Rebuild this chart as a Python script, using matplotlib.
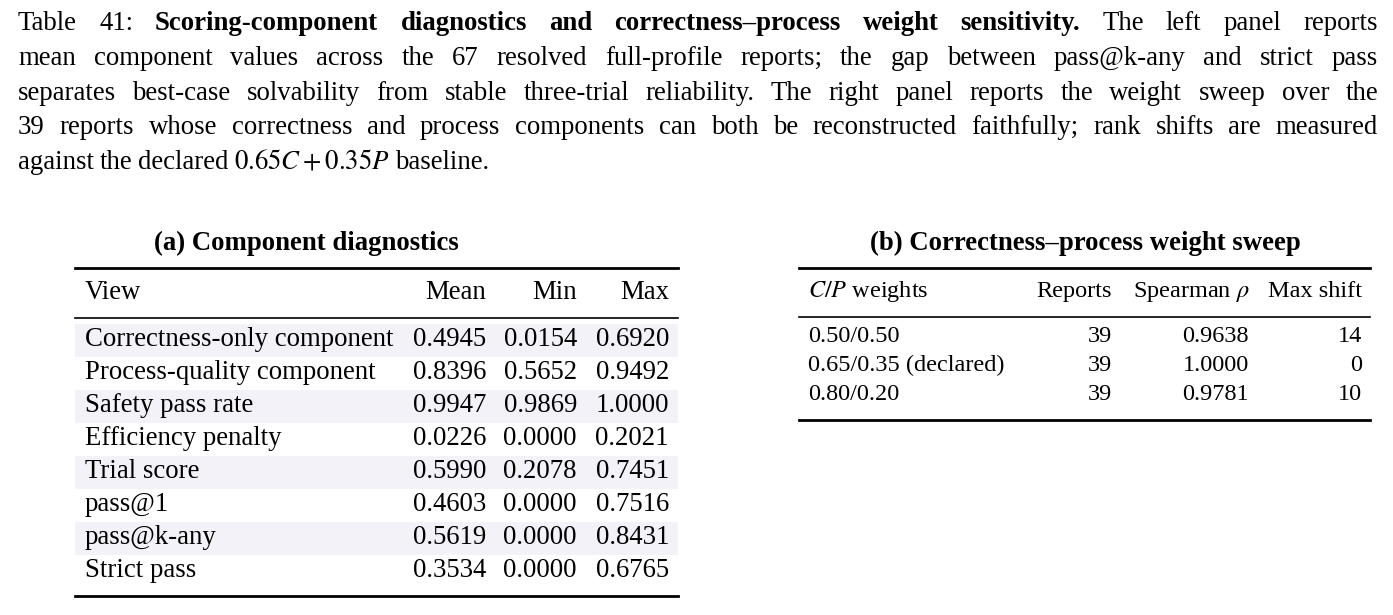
import matplotlib
matplotlib.use("Agg")
import matplotlib.pyplot as plt
from matplotlib.patches import Rectangle

plt.rcParams['font.family'] = ['Liberation Serif', 'DejaVu Serif']
plt.rcParams['mathtext.fontset'] = 'stix'

caption_lines = [
    [("Table 41:", "normal"), ("Scoring-component diagnostics and correctness–process weight sensitivity.", "bold"),
     ("The left panel reports", "normal")],
    [("mean component values across the 67 resolved full-profile reports; the gap between pass@k-any and strict pass", "normal")],
    [("separates best-case solvability from stable three-trial reliability. The right panel reports the weight sweep over the", "normal")],
    [("39 reports whose correctness and process components can both be reconstructed faithfully; rank shifts are measured", "normal")],
    [("against the declared $0.65C + 0.35P$ baseline.", "normal")],
]

left_header = ["View", "Mean", "Min", "Max"]
left_views = ["Correctness-only component", "Process-quality component", "Safety pass rate",
              "Efficiency penalty", "Trial score", "pass@1", "pass@k-any", "Strict pass"]
left_mean = ["0.4945", "0.8396", "0.9947", "0.0226", "0.5990", "0.4603", "0.5619", "0.3534"]
left_min = ["0.0154", "0.5652", "0.9869", "0.0000", "0.2078", "0.0000", "0.0000", "0.0000"]
left_max = ["0.6920", "0.9492", "1.0000", "0.2021", "0.7451", "0.7516", "0.8431", "0.6765"]

right_header = ["$C/P$ weights", "Reports", r"Spearman $\rho$", "Max shift"]
right_weights = ["0.50/0.50", "0.65/0.35 (declared)", "0.80/0.20"]
right_reports = ["39", "39", "39"]
right_spearman = ["0.9638", "1.0000", "0.9781"]
right_shift = ["14", "0", "10"]

W, H = 1393, 615
fig = plt.figure(figsize=(W / 100, H / 100), dpi=100)
ax = fig.add_axes([0, 0, 1, 1])
ax.set_xlim(0, W)
ax.set_ylim(H, 0)
ax.axis('off')
fig.canvas.draw()
r = fig.canvas.get_renderer()

FS = 19.3
def width(s, weight):
    t = ax.text(0, 0, s, fontsize=FS, fontweight=weight)
    bb = t.get_window_extent(r)
    t.remove()
    return bb.width

BL = 6  # baseline offset from visual centre
x0, x1 = 18, 1378
ys = [24, 59, 94, 128, 163]
for li, (segs, y) in enumerate(zip(caption_lines, ys)):
    words = []
    for s, wgt in segs:
        parts = s.split(" ") if "$" not in s else ["against", "the", "declared", "$0.65C+0.35P$", "baseline."]
        words += [(p, wgt) for p in parts]
    ws = [width(p, wgt) for p, wgt in words]
    last = li == len(caption_lines) - 1
    if last:
        gap = 5.5
    else:
        gap = (x1 - x0 - sum(ws)) / (len(words) - 1)
    x = x0
    for (p, wgt), w in zip(words, ws):
        ax.text(x, y + BL, p, fontsize=FS, fontweight=wgt, va='baseline', ha='left')
        x += w + gap

TF = 19.3
def txt(x, y, s, ha='left', weight='normal'):
    ax.text(x, y + BL, s, fontsize=TF, va='baseline', ha=ha, fontweight=weight)

# Left table
txt(306, 244, "(a) Component diagnostics", ha='center', weight='bold')
lx0, lx1 = 75, 678
ax.plot([lx0, lx1], [268, 268], color='black', lw=2.0)
ax.plot([lx0, lx1], [318, 318], color='black', lw=1.2)
ax.plot([lx0, lx1], [596, 596], color='black', lw=2.0)
colx = [85, 486, 577, 669]
txt(colx[0], 293, left_header[0])
for c in range(1, 4):
    txt(colx[c], 293, left_header[c], ha='right')
row0, rh = 340, 33
for i, v in enumerate(left_views):
    y = row0 + i * rh
    if i % 2 == 0:
        ax.add_patch(Rectangle((lx0, y - rh / 2), lx1 - lx0, rh, color='#f2f2f8', zorder=0, lw=0))
    txt(colx[0], y, v)
    for c, arr in zip(range(1, 4), [left_mean, left_min, left_max]):
        txt(colx[c], y, arr[i], ha='right')

# Right table
txt(1085, 244, "(b) Correctness–process weight sweep", ha='center', weight='bold')
rx0, rx1 = 799, 1370
ax.plot([rx0, rx1], [268, 268], color='black', lw=2.0)
ax.plot([rx0, rx1], [317, 317], color='black', lw=1.2)
ax.plot([rx0, rx1], [420, 420], color='black', lw=2.0)
rcol = [808, 1112, 1249, 1362]
RF = 17.5
def rtxt(x, y, s, ha='left'):
    ax.text(x, y + 5, s, fontsize=RF, va='baseline', ha=ha)
rtxt(rcol[0], 292, right_header[0])
for c in range(1, 4):
    rtxt(rcol[c], 292, right_header[c], ha='right')
for i, v in enumerate(right_weights):
    y = 337 + i * 29
    rtxt(rcol[0], y, v)
    for c, arr in zip(range(1, 4), [right_reports, right_spearman, right_shift]):
        rtxt(rcol[c], y, arr[i], ha='right')

fig.savefig("out.png", dpi=100)
